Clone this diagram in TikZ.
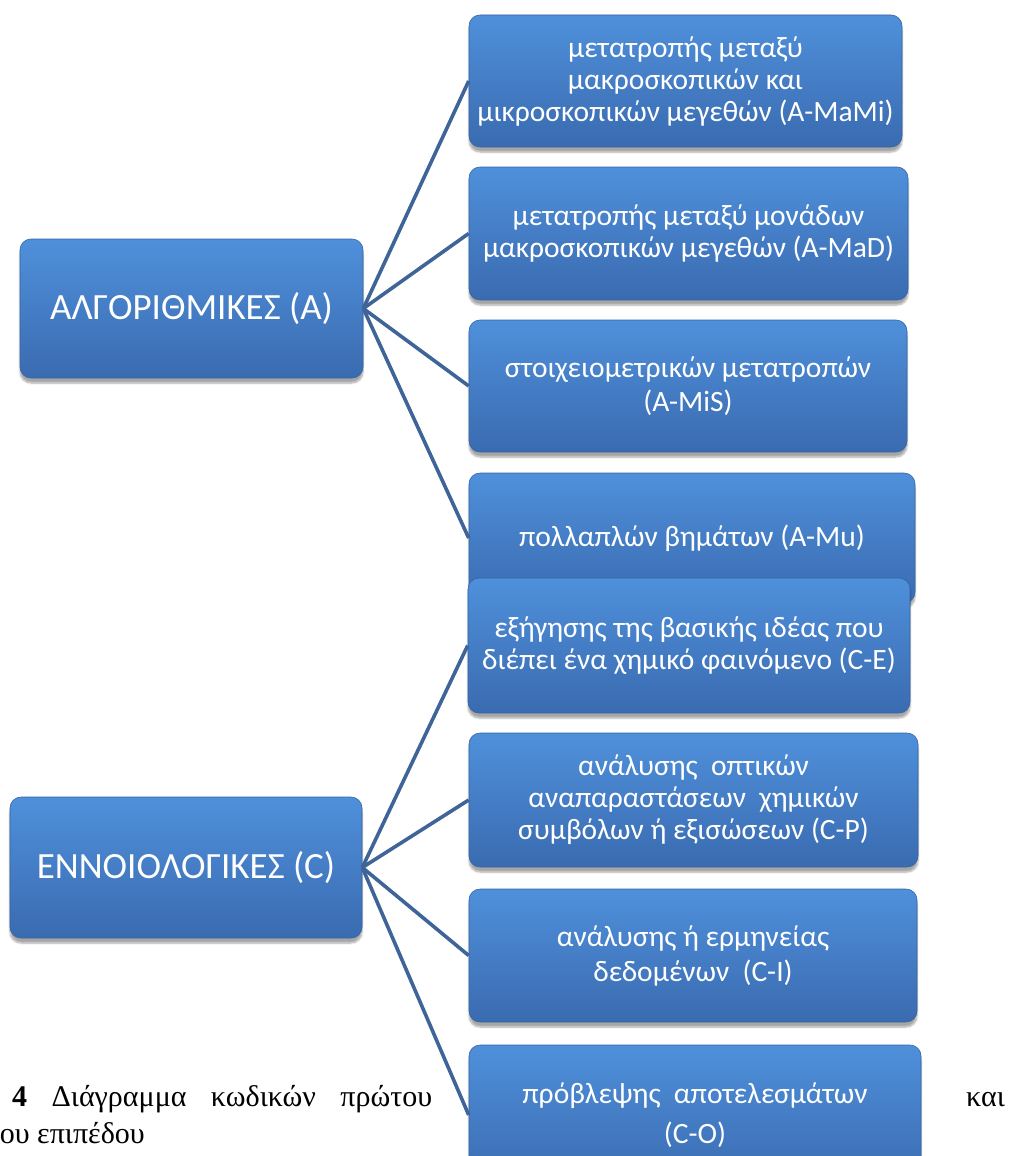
\documentclass[tikz,border=0pt]{standalone}
\usepackage{fontspec}
\setmainfont{Liberation Serif}
\newfontfamily\carl{Carlito}
\usetikzlibrary{shadows.blur}
\definecolor{boxtop}{HTML}{4F90DB}
\definecolor{boxbot}{HTML}{3A6BB0}
\definecolor{boxedge}{HTML}{3563A3}
\definecolor{linkcol}{HTML}{3E6498}
\tikzset{
  bluebox/.style={rounded corners=11pt, top color=boxtop, bottom color=boxbot,
    draw=boxedge, line width=0.6pt, text=white, align=center, inner sep=0pt,
    blur shadow={shadow xshift=0pt, shadow yshift=-5pt, shadow blur steps=6, shadow opacity=35}},
  rightbox/.style={bluebox, font=\carl\fontsize{29.5}{32}\selectfont},
  leftbox/.style={bluebox, font=\carl\fontsize{37}{44}\selectfont},
  link/.style={draw=linkcol, line width=3.6pt},
  captext/.style={inner sep=0pt, font=\fontsize{30}{36}\selectfont, text=black}
}
\begin{document}
\begin{tikzpicture}[x=1pt,y=-1pt]
\useasboundingbox (0,0) rectangle (1014,1156);
\clip (0,0) rectangle (1014,1156);
% left boxes
\node[leftbox, minimum width=343pt, minimum height=139pt] (A) at (191.5,308.5) {ΑΛΓΟΡΙΘΜΙΚΕΣ (A)};
\node[leftbox, minimum width=352pt, minimum height=141pt] (C) at (186,867.5) {ΕΝΝΟΙΟΛΟΓΙΚΕΣ (C)};
% right boxes
\node[rightbox, minimum width=433pt, minimum height=132pt] (b1) at (685.5,81) {μετατροπής μεταξύ\\μακροσκοπικών και\\μικροσκοπικών μεγεθών (A-MaMi)};
\node[rightbox, minimum width=439pt, minimum height=133pt] (b2) at (688.5,233.5) {μετατροπής μεταξύ μονάδων\\μακροσκοπικών μεγεθών (A-MaD)};
\node[rightbox, minimum width=438pt, minimum height=132pt, font=\carl\fontsize{29.5}{34}\selectfont] (b3) at (688,386) {στοιχειομετρικών μετατροπών\\(A-MiS)};
\node[rightbox, minimum width=446pt, minimum height=130pt] (b4) at (692,538) {πολλαπλών βημάτων (A-Mu)};
\node[rightbox, minimum width=442pt, minimum height=135pt] (b5) at (689,645.5) {εξήγησης της βασικής ιδέας που\\διέπει ένα χημικό φαινόμενο (C-E)};
\node[rightbox, minimum width=449pt, minimum height=134pt] (b6) at (693.5,800) {ανάλυσης\ \ οπτικών\\αναπαραστάσεων\ \ χημικών\\συμβόλων ή εξισώσεων (C-P)};
\node[rightbox, minimum width=448pt, minimum height=133pt, font=\carl\fontsize{29.5}{35}\selectfont] (b7) at (693,955.5) {ανάλυσης ή ερμηνείας\\δεδομένων\ \ (C-I)};
\node[rightbox, minimum width=452pt, minimum height=140pt, font=\carl\fontsize{29.5}{40}\selectfont] (b8) at (695,1115) {πρόβλεψης\ \ αποτελεσμάτων\\(C-O)};
% connectors
\foreach \t in {b1,b2,b3,b4} \draw[link] (A.east) -- (\t.west);
\foreach \t in {b5,b6,b7,b8} \draw[link] (C.east) -- (\t.west);
% caption fragments (justified line partly hidden by the figure)
\node[captext, anchor=base west] (c1) at (12,1106)
  {\makebox[420pt][l]{\textbf{4}\hfill Διάγραμμα\hfill κωδικών\hfill πρώτου}};
\node[captext, anchor=base west] (c5) at (966,1106) {και};
\node[captext, anchor=base east] (c6) at (145,1143) {ου επιπέδου};
\end{tikzpicture}
\end{document}
